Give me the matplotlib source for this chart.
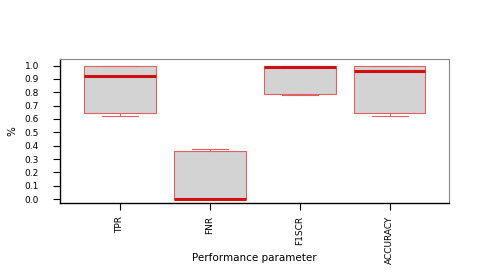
import numpy as np
import matplotlib
matplotlib.use('Agg')
import matplotlib.pyplot as plt

# performance parameter box statistics
names = ['TPR', 'FNR', 'F1SCR', 'ACCURACY']
whislo = [0.62, 0.0, 0.78, 0.62]
q1 = [0.645, 0.0, 0.785, 0.645]
med = [0.925, 0.003, 0.99, 0.962]
q3 = [1.0, 0.362, 1.0, 1.0]
whishi = [1.0, 0.373, 1.0, 1.0]

stats = []
for i in range(len(names)):
    stats.append({'label': names[i], 'whislo': whislo[i], 'q1': q1[i],
                  'med': med[i], 'q3': q3[i], 'whishi': whishi[i], 'fliers': []})

fig = plt.figure(figsize=(4.79, 2.79), dpi=100)
ax = fig.add_axes([0.125, 0.272, 0.812, 0.517])

ax.bxp(stats, positions=np.arange(1, 5), widths=0.8, patch_artist=True,
       showfliers=False,
       boxprops=dict(facecolor='#d3d3d3', edgecolor='#e06060', linewidth=0.8),
       medianprops=dict(color='#d01010', linewidth=2.2),
       whiskerprops=dict(color='#e06060', linewidth=0.8),
       capprops=dict(color='#e06060', linewidth=0.8),
       capwidths=0.4)

ax.set_xlim(0.33, 4.66)
ax.set_ylim(-0.03, 1.05)
ax.set_yticks(np.arange(0, 1.01, 0.1))
ax.set_yticklabels(['%.1f' % v for v in np.arange(0, 1.01, 0.1)], fontsize=6.5)
ax.set_xticks(np.arange(1, 5))
ax.set_xticklabels(names, rotation=90, fontsize=6.5)
ax.tick_params(axis='both', length=5, width=0.8, pad=4)
ax.tick_params(axis='y', pad=10)
ax.set_ylabel('%', fontsize=7.5)
ax.yaxis.set_label_coords(-0.11, 0.5)
ax.set_xlabel('Performance parameter', fontsize=7.5)
ax.xaxis.set_label_coords(0.5, -0.38)
ax.xaxis.label.set_va('center')

for s in ['top', 'right']:
    ax.spines[s].set_color('#888888')
    ax.spines[s].set_linewidth(0.8)
for s in ['left', 'bottom']:
    ax.spines[s].set_linewidth(1.0)

fig.savefig('out.png', dpi=100)
